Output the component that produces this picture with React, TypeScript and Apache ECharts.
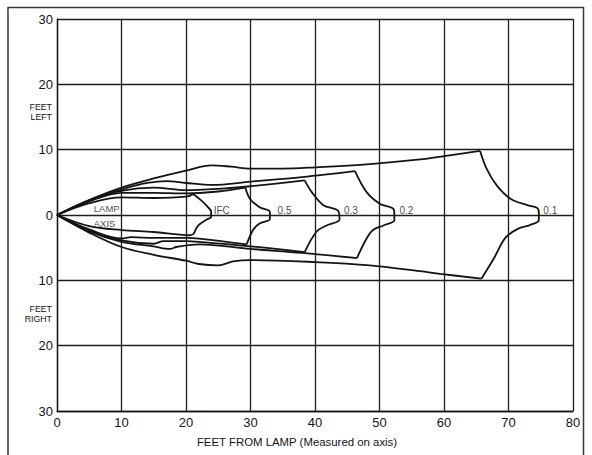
import React, { useEffect, useRef } from "react";
import * as echarts from "echarts";

// ---- data (feet) ----
const xTickMax = 80;
const yTickMax = 30;
const xAxisTitle = "FEET FROM LAMP (Measured on axis)";

const ifcUpper = [[0, 0], [5, 1.8], [10, 2.7], [15, 2.6], [20, 2.8], [21.1, 3.2]];
const ifcTip = [[21.1, 3.2], [22.4, 2.2], [23.4, 1.2], [23.9, 0.5], [23.9, -0.3], [23.2, -0.7], [21.9, -1.6], [21.2, -2.9]];
const ifcLower = [[0, 0], [5, -1.7], [10, -2.3], [15, -2.6], [20.5, -3.1], [21.2, -2.9]];

const p5Upper = [[0, 0], [5, 2.1], [10, 3.4], [15, 3.4], [20, 3.3], [25, 3.6], [29.2, 4.2]];
const p5Tip = [[29.2, 4.2], [29.9, 2.5], [31.4, 1.2], [33.0, 0.5], [33.0, -0.6], [31.4, -1.3], [30.4, -2.3], [29.4, -4.5]];
const p5Lower = [[0, 0], [5, -2.2], [10, -3.6], [11.5, -3.4], [15, -3.5], [20, -3.5], [22, -3.6], [29.4, -4.5]];

const p3Upper = [[0, 0], [5, 2.2], [10, 3.7], [15, 4.2], [20, 3.8], [25, 4.0], [30, 4.4], [38.4, 5.3]];
const p3Tip = [[38.4, 5.3], [39.5, 3.5], [41.3, 1.5], [43.6, 0.6], [43.8, -0.7], [41.8, -1.6], [40.2, -2.6], [38.4, -5.7]];
const p3Lower = [[0, 0], [5, -2.4], [10, -3.9], [15, -4.4], [16.5, -4.0], [20, -4.0], [22, -4.1], [30, -4.8], [38.4, -5.7]];

const p2Upper = [[0, 0], [5, 2.3], [10, 3.9], [14, 4.9], [17, 5.2], [20, 4.9], [24, 4.6], [30, 5.1], [38, 5.8], [46.2, 6.7]];
const p2Tip = [[46.2, 6.7], [48.0, 3.5], [50.1, 1.7], [52.1, 1.0], [52.3, 0.2], [52.3, -0.8], [50.6, -1.6], [49.0, -2.3], [48.0, -3.6], [46.5, -6.6]];
const p2Lower = [[0, 0], [5, -2.5], [10, -4.1], [15, -4.8], [17.5, -5.2], [18.5, -4.9], [22, -4.5], [30, -5.2], [38, -5.8], [46.5, -6.6]];

const p1Upper = [[0, 0], [5, 2.3], [10, 4.2], [15, 5.6], [20, 6.8], [24, 7.6], [27, 7.4], [30, 7.1], [35, 7.1], [40, 7.3], [48.5, 7.8], [56.3, 8.5], [60, 9.0], [65.6, 9.8]];
const p1Tip = [[65.6, 9.8], [66.6, 7.1], [68.2, 4.5], [70.3, 2.5], [72.9, 1.5], [74.4, 1.1], [74.7, 0.5], [74.7, -0.8], [73.4, -1.5], [71.3, -2.2], [69.5, -3.5], [67.7, -6.7], [65.8, -9.75]];
const p1Lower = [[0, 0], [5, -2.7], [10, -4.9], [15, -6.1], [20, -7.0], [22, -7.5], [25, -7.7], [27.3, -7.1], [30, -6.9], [40, -7.2], [48.5, -7.7], [56.3, -8.6], [59.4, -9.0], [65.8, -9.75]];

const contourNames = ["IFC", "0.5", "0.3", "0.2", "0.1"];
const contourLabelX = [24.3, 34.2, 44.5, 53.1, 75.4];
const contourLabelY = [0.75, 0.75, 0.75, 0.75, 0.75];

const axisWords = ["LAMP", "AXIS"];
const axisWordX = [5.7, 5.7];
const axisWordY = [0.95, -1.35];

const SANS = "'Liberation Sans', Arial, Helvetica, sans-serif";
const INK = "#141414";

export default function App() {
  const ref = useRef<HTMLDivElement>(null);

  useEffect(() => {
    if (!ref.current) return;
    const chart = echarts.init(ref.current, undefined, { renderer: "svg" });

    const segments = [ifcUpper, ifcTip, ifcLower, p5Upper, p5Tip, p5Lower, p3Upper, p3Tip, p3Lower, p2Upper, p2Tip, p2Lower, p1Upper, p1Tip, p1Lower];

    const lineSeries = segments.map((d, i) => ({
      type: "line",
      name: "seg" + i,
      data: d,
      smooth: 0.35,
      showSymbol: false,
      symbol: "none",
      silent: true,
      lineStyle: { color: INK, width: 1.8 },
      z: 5,
    }));

    const labelData = contourNames.map((n, i) => [contourLabelX[i], contourLabelY[i], n]);
    const wordData = axisWords.map((n, i) => [axisWordX[i], axisWordY[i], n]);

    const option: any = {
      animation: false,
      backgroundColor: "#ffffff",
      grid: { left: 57, top: 19, width: 516, height: 392, containLabel: false },
      xAxis: {
        type: "value",
        min: 0,
        max: xTickMax,
        interval: 10,
        axisLine: { show: true, onZero: false, lineStyle: { color: INK, width: 1.3 } },
        axisTick: { show: false },
        axisLabel: { color: INK, fontSize: 13, fontFamily: SANS, margin: 5 },
        splitLine: { show: true, lineStyle: { color: "#1e1e1e", width: 1.3 } },
      },
      yAxis: {
        type: "value",
        min: -yTickMax,
        max: yTickMax,
        interval: 10,
        axisLine: { show: true, onZero: false, lineStyle: { color: INK, width: 1.3 } },
        axisTick: { show: false },
        axisLabel: {
          color: INK,
          fontSize: 13,
          fontFamily: SANS,
          margin: 4,
          formatter: (v: number) => String(Math.abs(v)),
        },
        splitLine: { show: true, lineStyle: { color: "#1e1e1e", width: 1.3 } },
      },
      graphic: [
        {
          type: "rect",
          shape: { x: 8, y: 7.5, width: 575.5, height: 480 },
          style: { fill: "none", stroke: "#3a3a3a", lineWidth: 1.5 },
          silent: true,
          z: 0,
        },
        {
          type: "text",
          x: 297,
          y: 442,
          style: { text: xAxisTitle, fill: INK, font: `11.4px ${SANS}`, textAlign: "center", textVerticalAlign: "middle" },
          silent: true,
        },
        {
          type: "text",
          x: 52,
          y: 112,
          style: { text: "FEET\nLEFT", fill: INK, font: `8.8px ${SANS}`, textAlign: "right", textVerticalAlign: "middle", lineHeight: 10 },
          silent: true,
        },
        {
          type: "text",
          x: 52,
          y: 314,
          style: { text: "FEET\nRIGHT", fill: INK, font: `8.8px ${SANS}`, textAlign: "right", textVerticalAlign: "middle", lineHeight: 10 },
          silent: true,
        },
      ],
      series: [
        ...lineSeries,
        {
          type: "scatter",
          data: labelData,
          symbolSize: 0,
          silent: true,
          label: {
            show: true,
            position: "right",
            distance: 0,
            formatter: (p: any) => p.data[2],
            color: INK,
            fontSize: 10,
            fontFamily: SANS,
          },
          z: 6,
        },
        {
          type: "scatter",
          data: wordData,
          symbolSize: 0,
          silent: true,
          label: {
            show: true,
            position: "right",
            distance: 0,
            formatter: (p: any) => p.data[2],
            color: INK,
            fontSize: 9.5,
            fontFamily: SANS,
          },
          z: 6,
        },
      ],
    };

    chart.setOption(option);
    return () => chart.dispose();
  }, []);

  return (
    <div
      ref={ref}
      style={{ position: "absolute", left: 0, top: 0, width: 592, height: 455, background: "#fff" }}
    />
  );
}
